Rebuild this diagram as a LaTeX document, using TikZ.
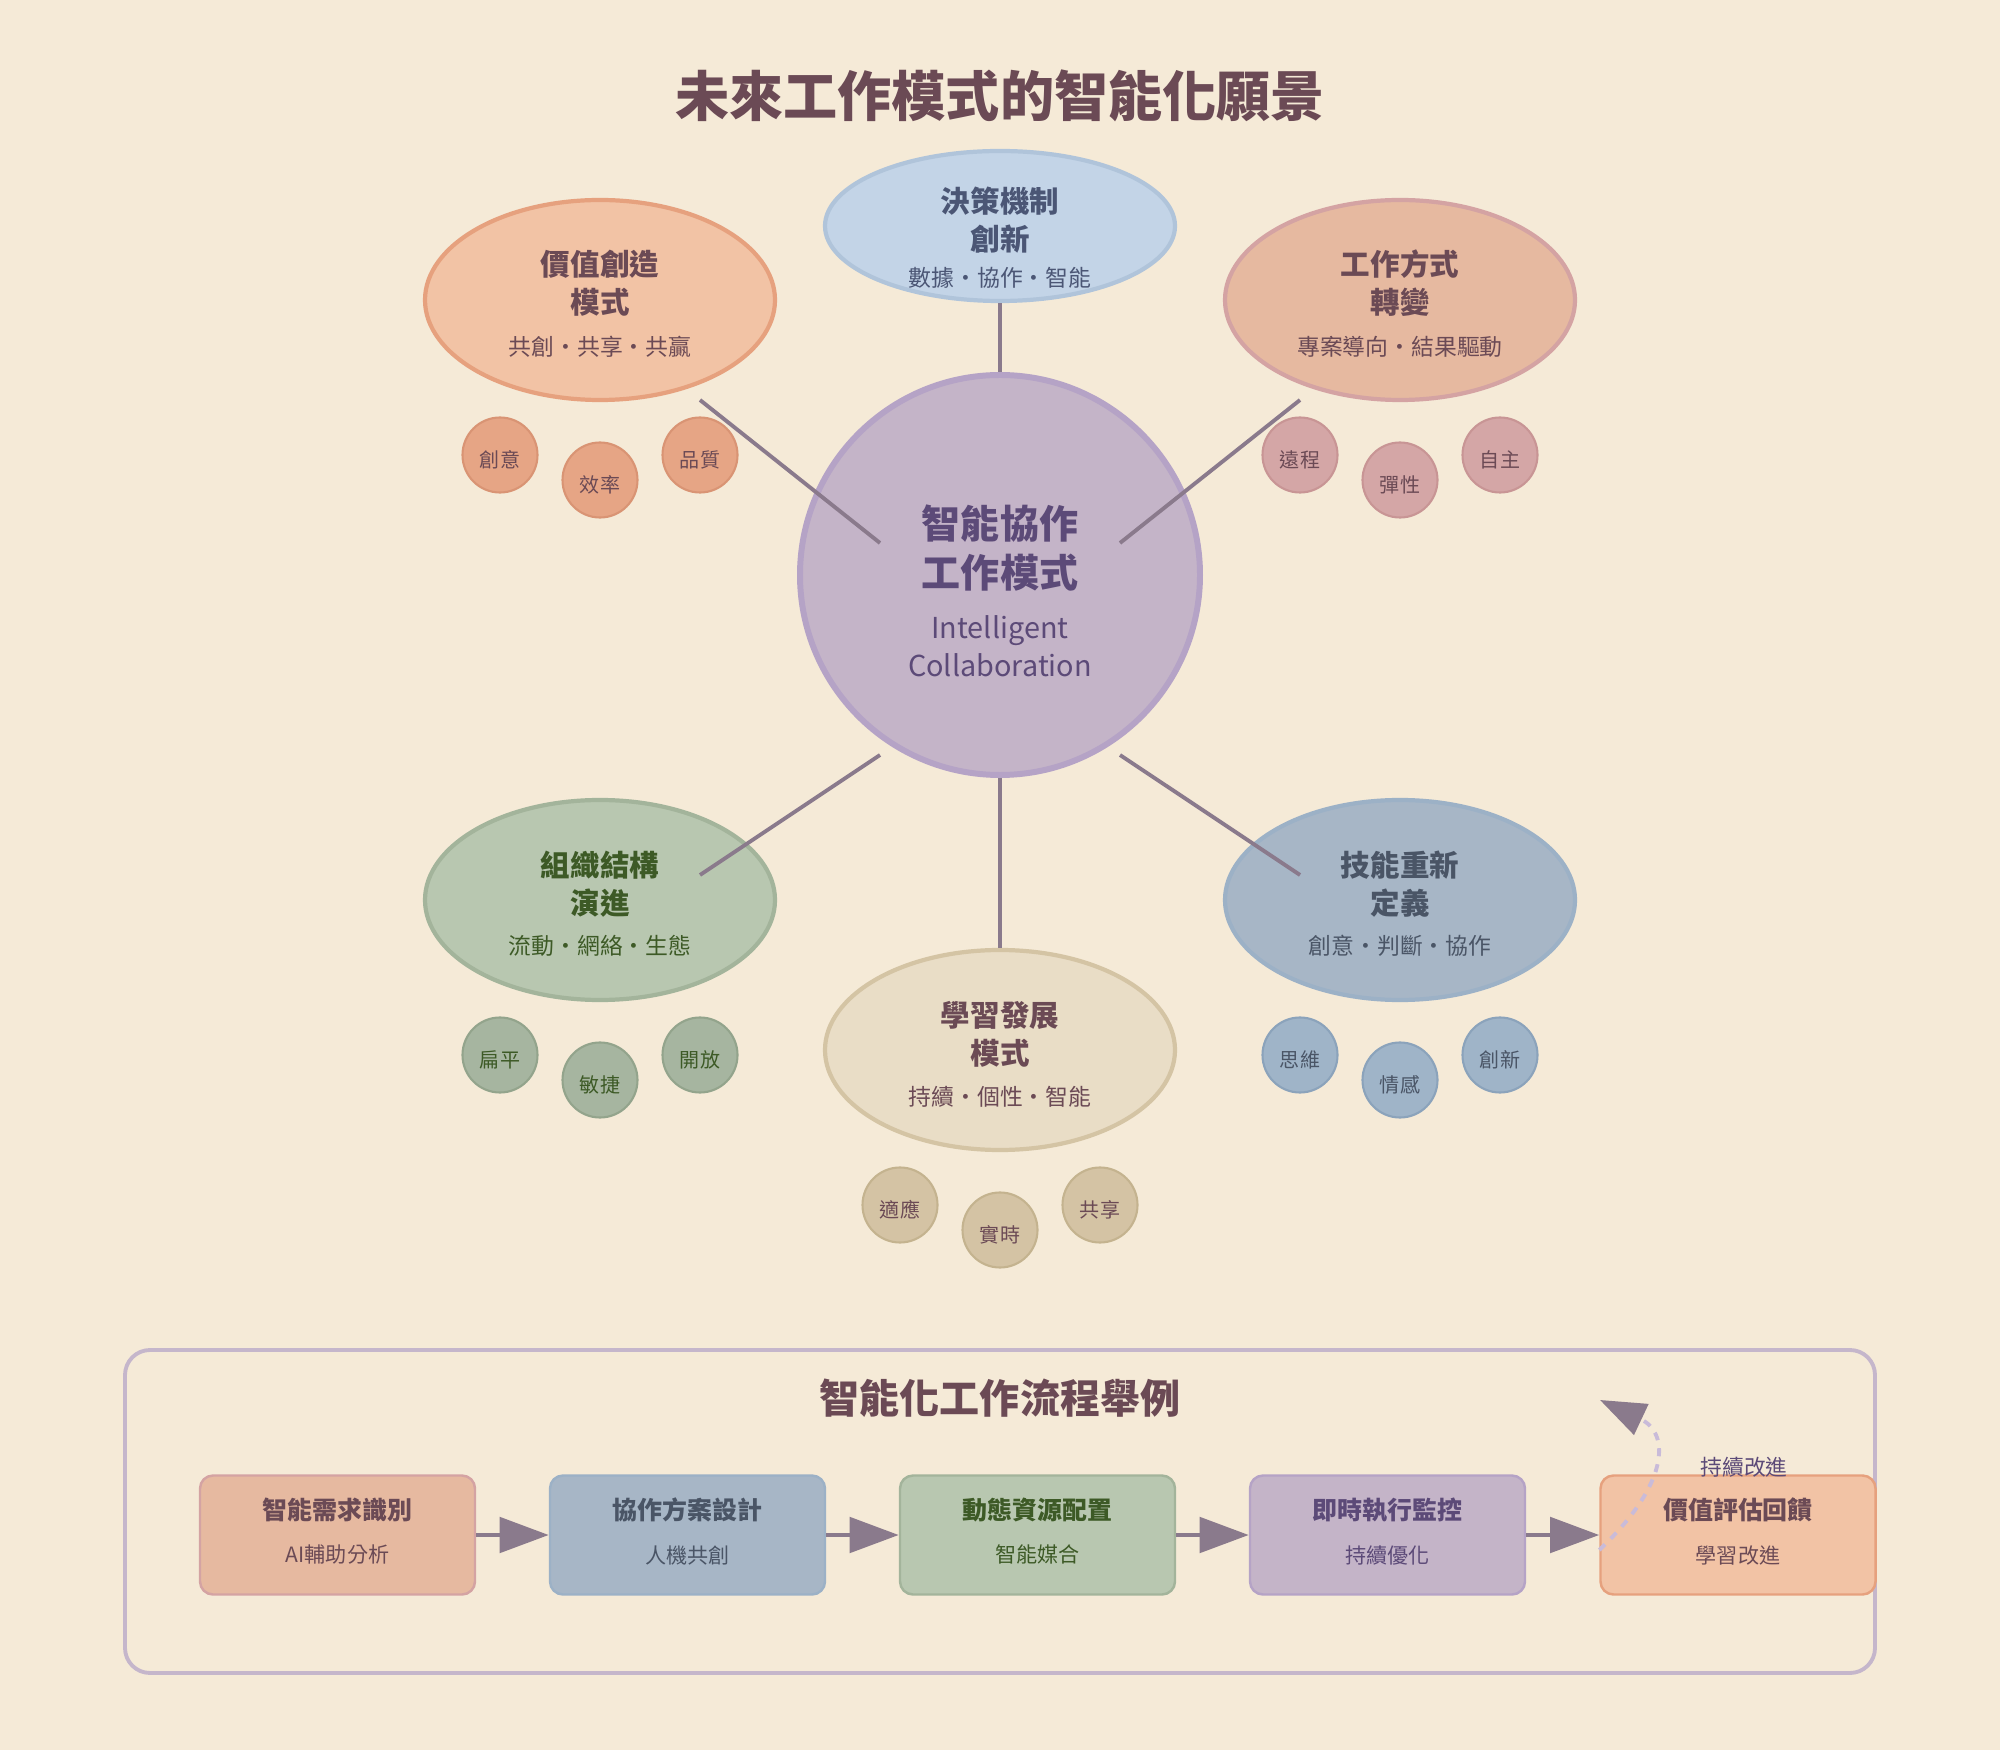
\documentclass[tikz,border=0pt]{standalone}
\usepackage{fontspec}
\setmainfont{Noto Sans CJK TC}
\usetikzlibrary{shapes.geometric,arrows.meta}
\definecolor{paper}{HTML}{F5EAD7}
\definecolor{ink}{HTML}{6B4A55}
\definecolor{wire}{HTML}{8A7A8C}
\definecolor{frameline}{HTML}{C5B6CB}
\definecolor{loopdash}{HTML}{C9BBD9}
\definecolor{corefill}{HTML}{C4B4C8}
\definecolor{coreline}{HTML}{B5A3C6}
\definecolor{coreink}{HTML}{5C4A78}
\definecolor{peachfill}{HTML}{F2C3A5}
\definecolor{peachline}{HTML}{E6A17E}
\definecolor{peachdot}{HTML}{E6A585}
\definecolor{peachdotline}{HTML}{D99474}
\definecolor{rosefill}{HTML}{E6B9A0}
\definecolor{roseline}{HTML}{D4A3A3}
\definecolor{rosedot}{HTML}{D4A6A6}
\definecolor{rosedotline}{HTML}{C89595}
\definecolor{sagefill}{HTML}{B8C7B0}
\definecolor{sageline}{HTML}{A3B49B}
\definecolor{sagedot}{HTML}{A6B5A0}
\definecolor{sagedotline}{HTML}{93A48C}
\definecolor{sageink}{HTML}{3D5A26}
\definecolor{slatefill}{HTML}{A7B6C6}
\definecolor{slateline}{HTML}{9CB1C6}
\definecolor{slatedot}{HTML}{9FB4C8}
\definecolor{slatedotline}{HTML}{8BA3BB}
\definecolor{slateink}{HTML}{4A5566}
\definecolor{skyfill}{HTML}{C3D4E7}
\definecolor{skyline}{HTML}{B0C4DA}
\definecolor{skyink}{HTML}{4B5675}
\definecolor{sandfill}{HTML}{E9DDC6}
\definecolor{sandline}{HTML}{D4C4A4}
\definecolor{sanddot}{HTML}{D4C3A4}
\definecolor{sanddotline}{HTML}{C4B38F}
\tikzset{bubble/.style={ellipse,draw,line width=1.2pt,minimum width=3.5cm,minimum height=2cm,inner sep=0pt}}
\tikzset{bubbletitle/.style={align=center,font=\bfseries\fontsize{8.4}{10.8}\selectfont}}
\tikzset{bubbletag/.style={font=\fontsize{6.5}{8}\selectfont}}
\tikzset{seed/.style={circle,draw,line width=0.6pt,minimum size=0.75cm,inner sep=0pt,text height=2.8mm,text depth=0.3mm,font=\fontsize{5.7}{7}\selectfont}}
\tikzset{spoke/.style={draw=wire,line width=1.1pt}}
\tikzset{stepbox/.style={draw,rounded corners=0.13cm,line width=0.7pt,minimum width=2.75cm,minimum height=1.19cm,align=center,text depth=2.6pt,font=\fontsize{6}{12.4}\selectfont}}
\tikzset{flow/.style={draw=wire,line width=1.4pt,-{Triangle[length=14pt,width=10pt]}}}

\begin{document}
\begin{tikzpicture}
    \fill[paper] (0,0) rectangle (20,-17.5);
    \node[text=ink,font=\bfseries\fontsize{15.4}{18}\selectfont] (title) at (10,-0.96) {未來工作模式的智能化願景};

    \node[circle,draw=coreline,fill=corefill,line width=1.7pt,minimum size=4cm] (core) at (10,-5.75) {};
    \node[text=coreink,align=center,font=\bfseries\fontsize{11.1}{14.2}\selectfont] (coretitle) at (10,-5.48) {智能協作\\工作模式};
    \node[text=coreink,align=center,font=\fontsize{8.2}{10.8}\selectfont] (coretag) at (10,-6.46) {Intelligent\\Collaboration};

    \node[bubble,draw=skyline,fill=skyfill,minimum height=1.5cm] (decide) at (10,-2.26) {};
    \node[bubbletitle,text=skyink] (decidetitle) at (10,-2.2) {決策機制\\創新};
    \node[bubbletag,text=skyink] (decidetag) at (10,-2.78) {數據・協作・智能};

    \node[bubble,draw=peachline,fill=peachfill] (value) at (6,-3) {};
    \node[bubbletitle,text=ink] (valuetitle) at (6,-2.83) {價值創造\\模式};
    \node[bubbletag,text=ink] (valuetag) at (6,-3.47) {共創・共享・共贏};
    \node[seed,draw=peachdotline,fill=peachdot,text=ink] (value1) at (5,-4.55) {創意};
    \node[seed,draw=peachdotline,fill=peachdot,text=ink] (value2) at (6,-4.8) {效率};
    \node[seed,draw=peachdotline,fill=peachdot,text=ink] (value3) at (7,-4.55) {品質};

    \node[bubble,draw=roseline,fill=rosefill] (shift) at (14,-3) {};
    \node[bubbletitle,text=ink] (shifttitle) at (14,-2.83) {工作方式\\轉變};
    \node[bubbletag,text=ink] (shifttag) at (14,-3.47) {專案導向・結果驅動};
    \node[seed,draw=rosedotline,fill=rosedot,text=ink] (shift1) at (13,-4.55) {遠程};
    \node[seed,draw=rosedotline,fill=rosedot,text=ink] (shift2) at (14,-4.8) {彈性};
    \node[seed,draw=rosedotline,fill=rosedot,text=ink] (shift3) at (15,-4.55) {自主};

    \node[bubble,draw=sageline,fill=sagefill] (org) at (6,-9) {};
    \node[bubbletitle,text=sageink] (orgtitle) at (6,-8.84) {組織結構\\演進};
    \node[bubbletag,text=sageink] (orgtag) at (6,-9.46) {流動・網絡・生態};
    \node[seed,draw=sagedotline,fill=sagedot,text=sageink] (org1) at (5,-10.55) {扁平};
    \node[seed,draw=sagedotline,fill=sagedot,text=sageink] (org2) at (6,-10.8) {敏捷};
    \node[seed,draw=sagedotline,fill=sagedot,text=sageink] (org3) at (7,-10.55) {開放};

    \node[bubble,draw=slateline,fill=slatefill] (skill) at (14,-9) {};
    \node[bubbletitle,text=slateink] (skilltitle) at (14,-8.84) {技能重新\\定義};
    \node[bubbletag,text=slateink] (skilltag) at (14,-9.46) {創意・判斷・協作};
    \node[seed,draw=slatedotline,fill=slatedot,text=slateink] (skill1) at (13,-10.55) {思維};
    \node[seed,draw=slatedotline,fill=slatedot,text=slateink] (skill2) at (14,-10.8) {情感};
    \node[seed,draw=slatedotline,fill=slatedot,text=slateink] (skill3) at (15,-10.55) {創新};

    \node[bubble,draw=sandline,fill=sandfill] (learn) at (10,-10.5) {};
    \node[bubbletitle,text=ink] (learntitle) at (10,-10.34) {學習發展\\模式};
    \node[bubbletag,text=ink] (learntag) at (10,-10.97) {持續・個性・智能};
    \node[seed,draw=sanddotline,fill=sanddot,text=ink] (learn1) at (9,-12.05) {適應};
    \node[seed,draw=sanddotline,fill=sanddot,text=ink] (learn2) at (10,-12.3) {實時};
    \node[seed,draw=sanddotline,fill=sanddot,text=ink] (learn3) at (11,-12.05) {共享};

    \coordinate (valueend) at (7,-4);
    \coordinate (valuecore) at (8.8,-5.43);
    \coordinate (shiftend) at (13,-4);
    \coordinate (shiftcore) at (11.2,-5.43);
    \coordinate (orgend) at (7,-8.75);
    \coordinate (orgcore) at (8.8,-7.55);
    \coordinate (skillend) at (13,-8.75);
    \coordinate (skillcore) at (11.2,-7.55);
    \draw[spoke] (decide.south) -- (core.north);
    \draw[spoke] (valueend) -- (valuecore);
    \draw[spoke] (shiftend) -- (shiftcore);
    \draw[spoke] (orgcore) -- (orgend);
    \draw[spoke] (skillcore) -- (skillend);
    \draw[spoke] (core.south) -- (learn.north);

    \draw[frameline,line width=1.1pt,rounded corners=0.25cm] (1.25,-13.5) rectangle (18.75,-16.73);
    \node[text=ink,font=\bfseries\fontsize{11.4}{14}\selectfont] (flowtitle) at (10,-13.98) {智能化工作流程舉例};
    \node[stepbox,draw=roseline,fill=rosefill,text=ink] (need) at (3.375,-15.35) {{\bfseries\fontsize{7.1}{12.4}\selectfont 智能需求識別}\\AI輔助分析};
    \node[stepbox,draw=slateline,fill=slatefill,text=slateink] (plan) at (6.875,-15.35) {{\bfseries\fontsize{7.1}{12.4}\selectfont 協作方案設計}\\人機共創};
    \node[stepbox,draw=sageline,fill=sagefill,text=sageink] (alloc) at (10.375,-15.35) {{\bfseries\fontsize{7.1}{12.4}\selectfont 動態資源配置}\\智能媒合};
    \node[stepbox,draw=coreline,fill=corefill,text=coreink] (watch) at (13.875,-15.35) {{\bfseries\fontsize{7.1}{12.4}\selectfont 即時執行監控}\\持續優化};
    \node[stepbox,draw=peachline,fill=peachfill,text=ink] (review) at (17.38,-15.35) {{\bfseries\fontsize{7.1}{12.4}\selectfont 價值評估回饋}\\學習改進};
    \draw[flow] (need) -- (plan);
    \draw[flow] (plan) -- (alloc);
    \draw[flow] (alloc) -- (watch);
    \draw[flow] (watch) -- (review);
    \coordinate (loopend) at (16,-14);
    \draw[loopdash,line width=1.1pt,dash pattern=on 2.3pt off 2.3pt,-{Triangle[length=13pt,width=9.5pt,color=wire]}] ([yshift=-0.15cm]review.west) .. controls (16.7,-14.83) and (16.7,-14.33) .. (loopend);
    \node[text=coreink,font=\fontsize{6.2}{8}\selectfont] (looplabel) at (17.44,-14.67) {持續改進};
\end{tikzpicture}
\end{document}
